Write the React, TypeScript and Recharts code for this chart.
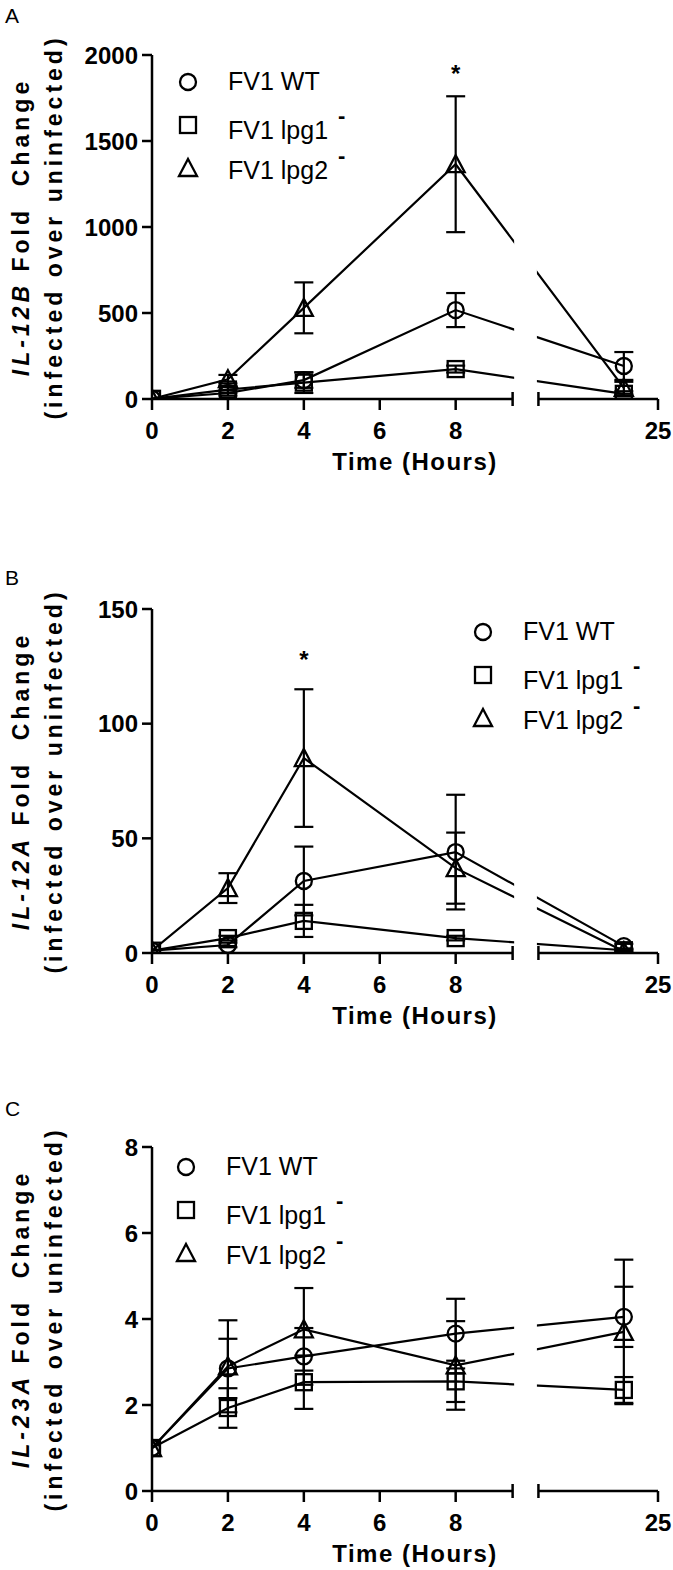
import React from 'react';
import {
  LineChart,
  Line,
  XAxis,
  YAxis,
  ErrorBar,
  ReferenceArea,
  ReferenceLine,
  ReferenceDot
} from 'recharts';

const FONT = '"Liberation Sans", Arial, Helvetica, sans-serif';

// sampling times (hours)
const hours = [0, 2, 4, 8, 24];
const seriesNames = ['FV1 WT', 'FV1 lpg1', 'FV1 lpg2'];
const seriesSup = ['', '-', '-'];
const seriesShapes = ['circle', 'square', 'triangle'];

// IL-12B fold change
const il12bWT = [1, 35, 110, 517, 192];
const il12bWTErr = [0, 15, 45, 99, 81];
const il12bLpg1 = [1, 55, 95, 174, 30];
const il12bLpg1Err = [0, 20, 60, 20, 15];
const il12bLpg2 = [1, 115, 530, 1365, 65];
const il12bLpg2Err = [0, 25, 148, 395, 35];

// IL-12A fold change
const il12aWT = [1, 3.5, 31.4, 44, 3];
const il12aWTErr = [0, 1, 15, 25, 1];
const il12aLpg1 = [1, 6.5, 14, 6.5, 1.2];
const il12aLpg1Err = [0, 1, 7, 1, 0.5];
const il12aLpg2 = [1, 28.3, 85, 37, 0.8];
const il12aLpg2Err = [0, 6.5, 30, 15.5, 0.5];

// IL-23A fold change
const il23aWT = [1, 2.85, 3.13, 3.66, 4.05];
const il23aWTErr = [0, 0.69, 0.66, 0.81, 0.7];
const il23aLpg1 = [1, 1.93, 2.53, 2.55, 2.35];
const il23aLpg1Err = [0, 0.46, 0.62, 0.48, 0.3];
const il23aLpg2 = [1, 2.9, 3.76, 2.92, 3.7];
const il23aLpg2Err = [0, 1.07, 0.96, 1.03, 1.68];

// y ticks
const il12bTicks = [0, 500, 1000, 1500, 2000];
const il12aTicks = [0, 50, 100, 150];
const il23aTicks = [0, 2, 4, 6, 8];

// significance marks (hour, height of the asterisk in data units)
const il12bSig = [{ hour: 8, level: 1895 }];
const il12aSig = [{ hour: 4, level: 128 }];
const il23aSig: { hour: number; level: number }[] = [];

// broken time axis: 0..9.5 h, gap, 21.5..25 h
const BREAK_START = 9.5;
const SEG2_START = 21.5;
const SEG2_END = 25;
const GAP = 0.68;
const SEG2_FACTOR = 0.9;
const pos = (h: number) =>
  h <= BREAK_START ? h : BREAK_START + GAP + (h - SEG2_START) * SEG2_FACTOR;

const xTickInfo = [
  { hour: 0, label: '0' },
  { hour: 2, label: '2' },
  { hour: 4, label: '4' },
  { hour: 6, label: '6' },
  { hour: 8, label: '8' },
  { hour: BREAK_START, cap: true },
  { hour: SEG2_START, cap: true },
  { hour: SEG2_END, label: '25' }
];

// layout
const W = 673;
const H = 480;
const PLOT_TOP = 55;
const PLOT_LEFT = 152;
const RIGHT = 15;
const X_AXIS_H = 70;
const BOTTOM = 11;
const PLOT_BOTTOM = H - BOTTOM - X_AXIS_H;

const Marker = ({ kind, cx, cy }: { kind: string; cx: number; cy: number }) => {
  const common = { fill: 'none', stroke: '#000', strokeWidth: 2.3 };
  if (kind === 'circle') return <circle cx={cx} cy={cy} r={8} {...common} />;
  if (kind === 'square') return <rect x={cx - 8} y={cy - 8} width={16} height={16} {...common} />;
  return (
    <polygon
      points={`${cx},${cy - 9} ${cx + 9},${cy + 8} ${cx - 9},${cy + 8}`}
      strokeLinejoin="miter"
      {...common}
    />
  );
};

const XTick = (props: any) => {
  const { x, y, payload } = props;
  const info: any = xTickInfo.find((t) => Math.abs(pos(t.hour) - payload.value) < 1e-6);
  if (!info) return <g />;
  if (info.cap) {
    return <line x1={x} x2={x} y1={y - 7} y2={y + 7} stroke="#000" strokeWidth={2.5} />;
  }
  return (
    <g>
      <line x1={x} x2={x} y1={y} y2={y + 11} stroke="#000" strokeWidth={2.5} />
      <text
        x={x}
        y={y + 39.5}
        textAnchor="middle"
        fontSize={24}
        fontWeight="bold"
        fontFamily={FONT}
        fill="#000"
      >
        {info.label}
      </text>
    </g>
  );
};

interface PanelCfg {
  top: number;
  letter: string;
  letterY: number;
  gene: string;
  yMax: number;
  yTicks: number[];
  values: number[][];
  errors: number[][];
  sig: { hour: number; level: number }[];
  legendX: number;
  legendY: number;
}

const panels: PanelCfg[] = [
  {
    top: 0,
    letter: 'A',
    letterY: 22.5,
    gene: 'IL-12B',
    yMax: 2000,
    yTicks: il12bTicks,
    values: [il12bWT, il12bLpg1, il12bLpg2],
    errors: [il12bWTErr, il12bLpg1Err, il12bLpg2Err],
    sig: il12bSig,
    legendX: 188,
    legendY: 82
  },
  {
    top: 554,
    letter: 'B',
    letterY: 31,
    gene: 'IL-12A',
    yMax: 150,
    yTicks: il12aTicks,
    values: [il12aWT, il12aLpg1, il12aLpg2],
    errors: [il12aWTErr, il12aLpg1Err, il12aLpg2Err],
    sig: il12aSig,
    legendX: 483,
    legendY: 78
  },
  {
    top: 1092,
    letter: 'C',
    letterY: 24,
    gene: 'IL-23A',
    yMax: 8,
    yTicks: il23aTicks,
    values: [il23aWT, il23aLpg1, il23aLpg2],
    errors: [il23aWTErr, il23aLpg1Err, il23aLpg2Err],
    sig: il23aSig,
    legendX: 186,
    legendY: 75
  }
];

const keys = ['wt', 'lpg1', 'lpg2'];
const symbolRows = [0, 43, 86];
const textRows = [-1, 48, 88];

const Panel = ({ cfg }: { cfg: PanelCfg }) => {
  const rows = hours.map((h, i) => {
    const r: any = { pos: pos(h) };
    keys.forEach((k, s) => {
      r[k] = cfg.values[s][i];
      r[k + 'Err'] = cfg.errors[s][i];
    });
    return r;
  });
  const plotMidY = (PLOT_TOP + PLOT_BOTTOM) / 2;

  return (
    <div style={{ position: 'absolute', left: 0, top: cfg.top, width: W, height: H }}>
      <LineChart
        width={W}
        height={H}
        data={rows}
        margin={{ top: PLOT_TOP, right: RIGHT, bottom: BOTTOM, left: 0 }}
      >
        {keys.map((k, s) => (
          <Line
            key={k}
            dataKey={k}
            name={seriesNames[s]}
            stroke="#000"
            strokeWidth={2.2}
            isAnimationActive={false}
            activeDot={false}
            dot={(p: any) => (
              <g key={`${k}-${p.index}`}>
                <Marker kind={seriesShapes[s]} cx={p.cx} cy={p.cy} />
              </g>
            )}
          >
            <ErrorBar dataKey={k + 'Err'} width={9.5} stroke="#000" strokeWidth={2.2} direction="y" />
          </Line>
        ))}
        {/* axis break */}
        <ReferenceArea
          x1={pos(BREAK_START) + 0.04}
          x2={pos(SEG2_START) - 0.04}
          fill="#fff"
          fillOpacity={1}
          stroke="none"
          zIndex={600}
        />
        <ReferenceLine
          segment={[{ x: 0, y: 0 }, { x: pos(BREAK_START), y: 0 }]}
          stroke="#000"
          strokeWidth={2.5}
          zIndex={700}
        />
        <ReferenceLine
          segment={[{ x: pos(SEG2_START), y: 0 }, { x: pos(SEG2_END), y: 0 }]}
          stroke="#000"
          strokeWidth={2.5}
          zIndex={700}
        />
        {cfg.sig.map((m) => (
          <ReferenceDot
            key={m.hour}
            x={pos(m.hour)}
            y={m.level}
            r={0}
            fill="none"
            stroke="none"
            label={{ value: '*', position: 'center', fontSize: 24, fontWeight: 'bold', fill: '#000', fontFamily: FONT }}
          />
        ))}
        <XAxis
          type="number"
          dataKey="pos"
          domain={[0, pos(SEG2_END)]}
          ticks={xTickInfo.map((t) => pos(t.hour))}
          interval={0}
          tick={(p: any) => <XTick {...p} />}
          tickLine={false}
          axisLine={false}
          tickSize={0}
          tickMargin={0}
          height={X_AXIS_H}
          allowDataOverflow
          zIndex={800}
        />
        <YAxis
          type="number"
          domain={[0, cfg.yMax]}
          ticks={cfg.yTicks}
          interval={0}
          width={PLOT_LEFT}
          tickSize={10}
          tickMargin={4}
          allowDataOverflow
          axisLine={{ stroke: '#000', strokeWidth: 2.5 }}
          tickLine={{ stroke: '#000', strokeWidth: 2.5 }}
          tick={{ fontSize: 24, fontWeight: 'bold', fill: '#000', fontFamily: FONT }}
        />
      </LineChart>

      <svg
        width={W}
        height={H}
        style={{ position: 'absolute', left: 0, top: 0, pointerEvents: 'none' }}
        fontFamily={FONT}
      >
        <text x={5} y={cfg.letterY} fontSize={21} fill="#000">
          {cfg.letter}
        </text>

        {/* y-axis title */}
        <g fontWeight="bold" fontSize={23} fill="#000" letterSpacing={4}>
          <text transform={`translate(29, ${plotMidY}) rotate(-90)`} textAnchor="middle">
            <tspan fontStyle="italic">{cfg.gene}</tspan>
            {' Fold\u00a0\u00a0Change'}
          </text>
          <text transform={`translate(62, ${plotMidY}) rotate(-90)`} textAnchor="middle">
            (infected over uninfected)
          </text>
        </g>

        {/* x-axis title */}
        <text
          x={415}
          y={PLOT_BOTTOM + 71}
          textAnchor="middle"
          fontSize={24}
          fontWeight="bold"
          letterSpacing={1.5}
          fill="#000"
        >
          Time (Hours)
        </text>

        {/* legend */}
        {seriesNames.map((name, s) => (
          <g key={name}>
            <Marker kind={seriesShapes[s]} cx={cfg.legendX} cy={cfg.legendY + symbolRows[s]} />
            <text x={cfg.legendX + 40} y={cfg.legendY + textRows[s] + 9} fontSize={25} fill="#000">
              {name}
              {seriesSup[s] && (
                <tspan dx={10} dy={-16} fontSize={22} fontWeight="bold">
                  {seriesSup[s]}
                </tspan>
              )}
            </text>
          </g>
        ))}
      </svg>
    </div>
  );
}

export default function App() {
  return (
    <div style={{ position: 'relative', width: W, height: 1570, overflow: 'hidden', background: '#fff' }}>
      <style>{'body { margin: 0; }'}</style>
      {panels.map((p) => (
        <Panel key={p.letter} cfg={p} />
      ))}
    </div>
  );
}
